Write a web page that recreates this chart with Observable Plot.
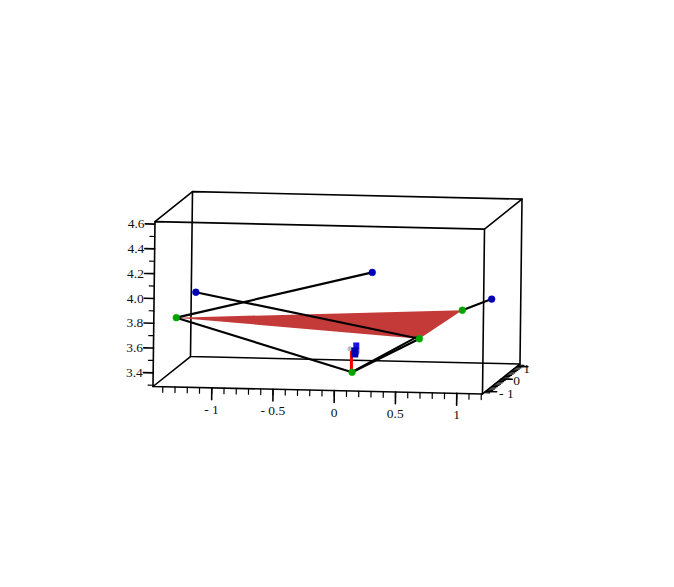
<!DOCTYPE html>
<html><head><meta charset="utf-8">
<script src="https://cdn.jsdelivr.net/npm/d3@7"></script>
<script src="https://cdn.jsdelivr.net/npm/@observablehq/plot@0.6"></script>
<style>html,body{margin:0;padding:0;background:#fff}svg{display:block}</style>
</head><body><div id="chart"></div>
<script>
// Axis extents of the box
const xMin = -1.48, xMax = 1.21, yMin = -1.2, yMax = 1.2, zMin = 3.29, zMax = 4.62;
// Tick values
const xMajor = [-1, -0.5, 0, 0.5, 1];
const xMajorLabels = ["- 1", "- 0.5", "0", "0.5", "1"];
const xMinor = d3.range(-14, 13).map(d => d / 10);
const zMajor = [3.4, 3.6, 3.8, 4.0, 4.2, 4.4, 4.6];
const zMajorLabels = ["3.4", "3.6", "3.8", "4.0", "4.2", "4.4", "4.6"];
const zMinor = [3.3, 3.5, 3.7, 3.9, 4.1, 4.3, 4.5];
const yMajor = [-1, 0, 1];
const yMajorLabels = ["- 1", "0", "1"];
const yMinor = d3.range(-11, 12).map(d => d / 10);
// Points as [x, z] on the front plane of the box
const greenPts = [[-1.29, 3.845], [0.145, 3.405], [0.695, 3.675], [1.045, 3.905]];
const bluePts = [[-1.13, 4.05], [0.31, 4.21], [1.285, 3.995]];
const segments = [
  [bluePts[1], greenPts[0]], [greenPts[0], greenPts[1]], [greenPts[1], greenPts[2]],
  [[0.15, 3.41], [0.675, 3.69]], [bluePts[0], greenPts[2]], [greenPts[3], bluePts[2]]
];
const triangle = [greenPts[0], greenPts[3], greenPts[2]];
const redStem = [[0.14, 3.41], [0.14, 3.58]];
const greyDot = [[0.128, 3.595]];
const cubeDark = [[0.139, 3.524], [0.196, 3.524], [0.196, 3.605], [0.139, 3.605]];
const cubeFace = [[0.155, 3.596], [0.204, 3.596], [0.204, 3.645], [0.155, 3.645]];
const cubeSide = [[0.196, 3.54], [0.204, 3.56], [0.204, 3.60], [0.196, 3.60]];

// Oblique view: depth w in 0..1 shifts towards the back of the box
const pxX = 122.5, pxZ = 124;
const dxW = 37.5 / pxX, dzW = 30 / pxZ;
const shearXZ = 2 / pxX / (zMax - zMin), shearZX = -7.5 / pxZ / (xMax - xMin);
const W = y => (y - yMin) / (yMax - yMin);
const P = (x, y, z) => ({
  X: x + (z - zMin) * shearXZ + W(y) * dxW,
  Z: z + (x - xMin) * shearZX + W(y) * dzW
});
const F = ([x, z]) => ({X: x, Z: z});

const seg = (id, a, b) => [{...a, id}, {...b, id}];
const box = [
  [[xMin,yMin,zMin],[xMax,yMin,zMin],[xMax,yMin,zMax],[xMin,yMin,zMax],[xMin,yMin,zMin]],
  [[xMin,yMax,zMin],[xMax,yMax,zMin],[xMax,yMax,zMax],[xMin,yMax,zMax],[xMin,yMax,zMin]],
  [[xMin,yMin,zMin],[xMin,yMax,zMin]], [[xMax,yMin,zMin],[xMax,yMax,zMin]],
  [[xMin,yMin,zMax],[xMin,yMax,zMax]], [[xMax,yMin,zMax],[xMax,yMax,zMax]]
].flatMap((l, id) => l.map(p => ({...P(...p), id})));

const tick = (list, a, b) => list.flatMap((v, i) => seg(i, P(...a(v)), P(...b(v))));
const xTicksMaj = tick(xMajor, v => [v,yMin,zMin], v => [v,yMin,zMin-0.095]);
const xTicksMin = tick(xMinor, v => [v,yMin,zMin], v => [v,yMin,zMin-0.045]);
const zTicksMaj = tick(zMajor, v => [xMin,yMin,v], v => [xMin-0.08,yMin,v]);
const zTicksMin = tick(zMinor, v => [xMin,yMin,v], v => [xMin-0.04,yMin,v]);
const yTicksMaj = tick(yMajor, v => [xMax,v,zMin], v => [xMax+0.09,v,zMin]);
const yTicksMin = tick(yMinor, v => [xMax,v,zMin], v => [xMax+0.045,v,zMin]);

const xLab = xMajor.map((v, i) => ({...P(v, yMin, zMin - 0.175), t: xMajorLabels[i]}));
const zLab = zMajor.map((v, i) => ({...P(xMin - 0.085, yMin, v), t: zMajorLabels[i]}));
const yLab = yMajor.map((v, i) => ({...P(xMax + 0.125 - 0.045 * v, v, zMin - 0.012), t: yMajorLabels[i]}));

const line = (d, o = {}) => Plot.line(d, {x: "X", y: "Z", z: "id", stroke: "#000", strokeWidth: 1.6, ...o});
const poly = (d, fill) => Plot.line(d.map(F), {x: "X", y: "Z", fill, stroke: "none"});
const segData = segments.flatMap((s, id) => s.map(p => ({...F(p), id})));
const textOpts = {x: "X", y: "Z", text: "t", fontFamily: "Liberation Serif", fontSize: 13.5, fill: "#111"};

const chart = Plot.plot({
  width: 674, height: 587, margin: 0,
  style: {background: "#fff"},
  x: {axis: null, domain: [xMin, xMax], range: [152.5, 482]},
  y: {axis: null, domain: [zMin, zMax], range: [386, 221.1]},
  marks: [
    line(box),
    poly(triangle, "#c43a38"),
    line(xTicksMaj), line(xTicksMin, {strokeWidth: 1.2}),
    line(zTicksMaj), line(zTicksMin, {strokeWidth: 1.2}),
    line(yTicksMaj), line(yTicksMin, {strokeWidth: 1.2}),
    line(segData, {strokeWidth: 2.2}),
    line(redStem.map(p => ({...F(p), id: 0})), {stroke: "#f00000", strokeWidth: 3}),
    Plot.dot(greyDot.map(F), {x: "X", y: "Z", r: 2.5, fill: "#bbb"}),
    poly(cubeFace, "#1414e6"), poly(cubeDark, "#0000b0"), poly(cubeSide, "#0808c8"),
    Plot.dot(greenPts.map(F), {x: "X", y: "Z", r: 3.4, fill: "#00a000", stroke: "#00c000", strokeWidth: 0.5}),
    Plot.dot(bluePts.map(F), {x: "X", y: "Z", r: 3.4, fill: "#0000b0", stroke: "#0000d0", strokeWidth: 0.5}),
    Plot.text(xLab, {...textOpts}),
    Plot.text(zLab, {...textOpts, textAnchor: "end"}),
    Plot.text(yLab, {...textOpts})
  ]
});
document.getElementById("chart").append(chart);
</script></body></html>
